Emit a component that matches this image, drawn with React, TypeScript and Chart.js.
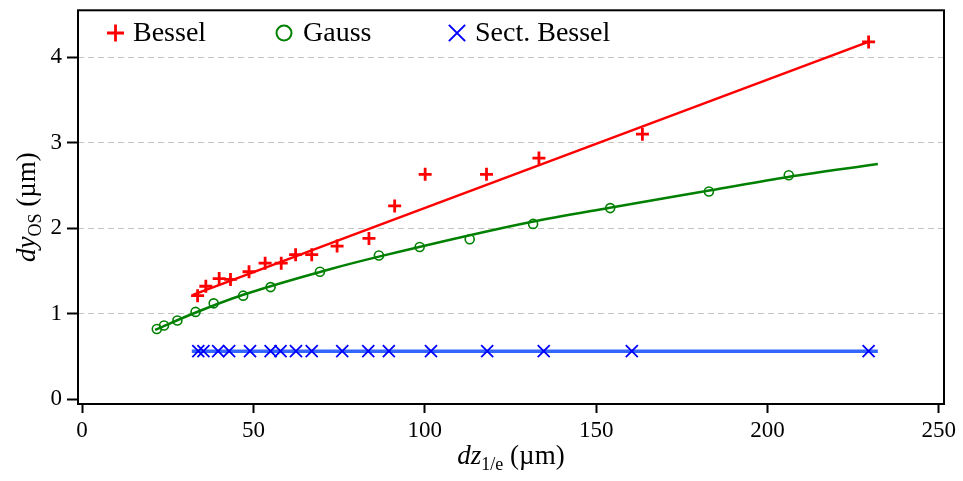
import React, { useEffect, useRef } from 'react';
import { Chart, registerables } from 'chart.js';

Chart.register(...registerables);

// ---- data ----
const besselX = [33.7, 36.1, 40.0, 43.3, 48.7, 53.4, 58.1, 62.3, 67.0, 74.4, 83.7, 91.2, 100.1, 118.0, 133.3, 163.5, 229.5];
const besselY = [1.21, 1.32, 1.41, 1.40, 1.49, 1.59, 1.59, 1.69, 1.69, 1.79, 1.88, 2.26, 2.63, 2.63, 2.82, 3.10, 4.18];
const besselFitX = [32.3, 230.0];
const besselFitY = [1.22, 4.19];

const gaussX = [21.8, 23.9, 27.8, 33.1, 38.4, 47.0, 55.0, 69.4, 86.6, 98.5, 113.1, 131.6, 154.1, 182.9, 206.2];
const gaussY = [0.82, 0.86, 0.92, 1.02, 1.12, 1.21, 1.31, 1.49, 1.68, 1.78, 1.87, 2.05, 2.235, 2.43, 2.62];
const gaussFitX = [21.3, 33.0, 47.0, 72.3, 86.9, 130.6, 154.0, 183.0, 206.0, 232.2];
const gaussFitY = [0.81, 1.01, 1.22, 1.52, 1.67, 2.07, 2.24, 2.44, 2.60, 2.75];

const sectX = [33.9, 35.4, 39.7, 42.9, 49.0, 55.0, 57.9, 62.4, 67.0, 75.9, 83.5, 89.5, 101.8, 118.2, 134.7, 160.4, 229.5];
const sectY = [0.56, 0.56, 0.56, 0.56, 0.56, 0.56, 0.56, 0.56, 0.56, 0.56, 0.56, 0.56, 0.56, 0.56, 0.56, 0.56, 0.56];
const sectFitX = [32.0, 232.2];
const sectFitY = [0.56, 0.56];

const xTicks = [0, 50, 100, 150, 200, 250];
const yTicks = [0, 1, 2, 3, 4];
const legendLabels = ['Bessel', 'Gauss', 'Sect. Bessel'];

const RED = '#ff0000';
const GREEN = '#008000';
const BLUE = '#0000ff';
const BLUE_LINE = '#3366ff';
const SERIF = '"Liberation Serif", "DejaVu Serif", serif';

const pts = (xs: number[], ys: number[]) => xs.map((x, i) => ({ x, y: ys[i] }));

function drawMarker(ctx: CanvasRenderingContext2D, kind: string, x: number, y: number, r: number, color: string, lw: number) {
  ctx.save();
  ctx.strokeStyle = color;
  ctx.lineWidth = lw;
  ctx.beginPath();
  if (kind === 'cross') {
    ctx.moveTo(x - r, y); ctx.lineTo(x + r, y);
    ctx.moveTo(x, y - r); ctx.lineTo(x, y + r);
  } else if (kind === 'crossRot') {
    const d = r * Math.SQRT1_2;
    ctx.moveTo(x - d, y - d); ctx.lineTo(x + d, y + d);
    ctx.moveTo(x - d, y + d); ctx.lineTo(x + d, y - d);
  } else {
    ctx.arc(x, y, r, 0, Math.PI * 2);
  }
  ctx.stroke();
  ctx.restore();
}

function drawRich(ctx: CanvasRenderingContext2D, parts: { t: string; f: string; dy: number }[], cx: number, baseY: number) {
  let total = 0;
  const widths = parts.map((p) => { ctx.font = p.f; const w = ctx.measureText(p.t).width; total += w; return w; });
  let x = cx - total / 2;
  parts.forEach((p, i) => {
    ctx.font = p.f;
    ctx.fillText(p.t, x, baseY + p.dy);
    x += widths[i];
  });
}

const decorPlugin = {
  id: 'decor',
  afterDraw(chart: any) {
    const { ctx, chartArea: a } = chart;
    ctx.save();
    // frame
    ctx.strokeStyle = '#000';
    ctx.lineWidth = 2;
    ctx.strokeRect(a.left, a.top, a.right - a.left, a.bottom - a.top);

    // legend
    const ly = 33;
    const items = [
      { kind: 'cross', color: RED, mx: 115.5, tx: 133, r: 8.5, lw: 2.8 },
      { kind: 'circle', color: GREEN, mx: 284, tx: 303, r: 7.5, lw: 2 },
      { kind: 'crossRot', color: BLUE, mx: 457, tx: 475, r: 11.5, lw: 2 },
    ];
    items.forEach((it, i) => {
      drawMarker(ctx, it.kind, it.mx, ly, it.r, it.color, it.lw);
      ctx.fillStyle = '#000';
      ctx.font = `28px ${SERIF}`;
      ctx.textBaseline = 'middle';
      ctx.textAlign = 'left';
      ctx.fillText(legendLabels[i], it.tx, ly + 1);
    });

    // axis titles
    ctx.fillStyle = '#000';
    ctx.textBaseline = 'alphabetic';
    ctx.textAlign = 'left';
    const cx = (a.left + a.right) / 2;
    drawRich(ctx, [
      { t: 'dz', f: `italic 27px ${SERIF}`, dy: 0 },
      { t: '1/e', f: `18px ${SERIF}`, dy: 6 },
      { t: ' (µm)', f: `27px ${SERIF}`, dy: 0 },
    ], cx, 464);

    ctx.save();
    ctx.translate(35, (a.top + a.bottom) / 2);
    ctx.rotate(-Math.PI / 2);
    drawRich(ctx, [
      { t: 'dy', f: `italic 27px ${SERIF}`, dy: 0 },
      { t: 'OS', f: `18px ${SERIF}`, dy: 6 },
      { t: ' (µm)', f: `27px ${SERIF}`, dy: 0 },
    ], 0, 0);
    ctx.restore();
    ctx.restore();
  },
};

export default function App() {
  const ref = useRef<HTMLCanvasElement | null>(null);

  useEffect(() => {
    document.body.style.margin = '0';
    const canvas = ref.current;
    if (!canvas) return;
    const chart = new Chart(canvas, {
      type: 'scatter',
      data: {
        datasets: [
          {
            label: 'Bessel fit', data: pts(besselFitX, besselFitY), showLine: true,
            borderColor: RED, borderWidth: 2.5, pointRadius: 0, order: 5,
          },
          {
            label: 'Gauss fit', data: pts(gaussFitX, gaussFitY), showLine: true,
            borderColor: GREEN, borderWidth: 2.5, pointRadius: 0, cubicInterpolationMode: 'monotone', order: 5,
          },
          {
            label: 'Sect. Bessel fit', data: pts(sectFitX, sectFitY), showLine: true,
            borderColor: BLUE_LINE, borderWidth: 3.5, pointRadius: 0, order: 5,
          },
          {
            label: legendLabels[0], data: pts(besselX, besselY), showLine: false,
            pointStyle: 'cross', pointRadius: 6.5, pointBorderColor: RED, pointBorderWidth: 2.8,
            borderColor: RED, backgroundColor: RED, order: 1,
          },
          {
            label: legendLabels[1], data: pts(gaussX, gaussY), showLine: false,
            pointStyle: 'circle', pointRadius: 4.5, pointBorderColor: GREEN, pointBorderWidth: 1.6,
            pointBackgroundColor: 'rgba(0,0,0,0)', borderColor: GREEN, backgroundColor: 'rgba(0,0,0,0)', order: 1,
          },
          {
            label: legendLabels[2], data: pts(sectX, sectY), showLine: false,
            pointStyle: 'crossRot', pointRadius: 8.5, pointBorderColor: BLUE, pointBorderWidth: 1.8,
            borderColor: BLUE, backgroundColor: BLUE, order: 1,
          },
        ],
      },
      options: {
        animation: false,
        responsive: false,
        maintainAspectRatio: false,
        devicePixelRatio: 1,
        layout: { padding: { left: 0, top: 8, right: 19, bottom: 0 } },
        plugins: { legend: { display: false }, tooltip: { enabled: false }, title: { display: false } },
        scales: {
          x: {
            type: 'linear', min: -1.2, max: 251.5,
            afterBuildTicks: (s: any) => { s.ticks = xTicks.map((v) => ({ value: v })); },
            afterFit: (s: any) => { s.height = 77; s.paddingLeft = 0; s.paddingRight = 0; },
            ticks: { color: '#000', font: { family: SERIF, size: 23 }, padding: 4, maxRotation: 0 },
            grid: { drawOnChartArea: false, drawTicks: true, tickLength: 9, tickColor: '#000', tickWidth: 2 },
            border: { display: false },
          },
          y: {
            type: 'linear', min: -0.058, max: 4.55,
            afterBuildTicks: (s: any) => { s.ticks = yTicks.map((v) => ({ value: v })); },
            afterFit: (s: any) => { s.width = 78; s.paddingTop = 0; s.paddingBottom = 0; },
            ticks: { color: '#000', font: { family: SERIF, size: 23 }, padding: 5 },
            grid: {
              drawOnChartArea: true, drawTicks: true, tickLength: 11, tickColor: '#000', tickWidth: 2,
              color: (c: any) => (c.tick && c.tick.value === 0 ? 'rgba(0,0,0,0)' : '#c4c4c4'),
              lineWidth: 1, tickBorderDash: [],
            },
            border: { display: false, dash: [6, 4] },
          },
        },
      },
      plugins: [decorPlugin],
    } as any);
    return () => chart.destroy();
  }, []);

  return (
    <div style={{ width: 963, height: 481, background: '#fff' }}>
      <canvas ref={ref} width={963} height={481} style={{ display: 'block', width: 963, height: 481 }} />
    </div>
  );
}
